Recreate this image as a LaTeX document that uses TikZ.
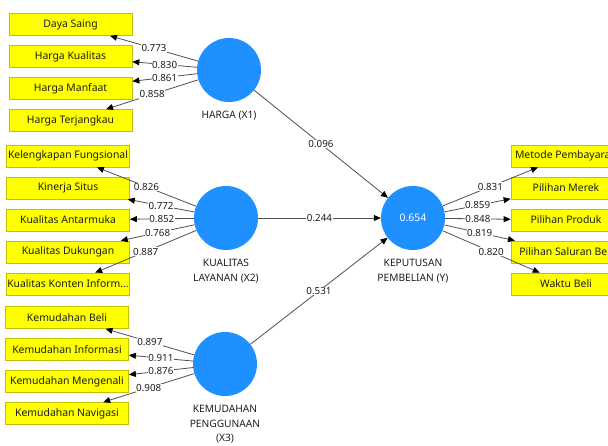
\documentclass[tikz,border=0pt]{standalone}
\usepackage{fontspec}
\setmainfont{Noto Sans}
\usepackage{tikz}
\usetikzlibrary{arrows.meta,positioning}
\definecolor{plsblue}{HTML}{1E90FF}
\definecolor{plsyellow}{HTML}{FFFF00}
\definecolor{plsrim}{HTML}{C2C200}
\definecolor{plsedge}{HTML}{505050}
\definecolor{ink}{HTML}{1E1E1E}
\tikzset{
  ind/.style={rectangle, draw=plsrim, fill=plsyellow, line width=0.7pt,
              minimum width=123pt, minimum height=22pt, inner sep=1pt,
              font=\fontsize{10.4}{12}\selectfont, text=ink},
  indr/.style={ind, minimum width=110pt},
  lv/.style={circle, fill=plsblue, minimum size=64pt, inner sep=0pt,
             text=white, font=\fontsize{10.4}{12}\selectfont},
  lvlbl/.style={align=center, inner sep=0pt, text=ink,
                font=\fontsize{10.2}{14.5}\selectfont},
  load/.style={-{Triangle[length=7pt,width=6pt,color=black]}, draw=plsedge, line width=0.8pt},
  val/.style={fill=white, inner sep=0.6pt, text=ink, font=\fontsize{9.8}{11}\selectfont}
}

\begin{document}
\begin{tikzpicture}[x=1pt, y=-1pt, node distance=9.3pt]
  \useasboundingbox (0,0) rectangle (608,445);
  \clip (0,0) rectangle (608,445);
  \fill[white] (0,0) rectangle (608,445);

  \node[lv] (harga) at (229,70) {};
  \node[lv] (kualitas) at (226,218) {};
  \node[lv] (keputusan) at (413,218) {0.654};
  \node[lv] (kemudahan) at (225,364) {};
  \node[lvlbl, below=9pt of harga] (hargalbl) {HARGA (X1)};
  \node[lvlbl, below=9pt of kualitas] (kualitaslbl) {KUALITAS\\LAYANAN (X2)};
  \node[lvlbl, below=9pt of keputusan] (keputusanlbl) {KEPUTUSAN\\PEMBELIAN (Y)};
  \node[lvlbl, below=9pt of kemudahan] (kemudahanlbl) {KEMUDAHAN\\PENGGUNAAN\\(X3)};

  \node[ind] (daya) at (70.5,24.5) {Daya Saing};
  \node[ind, below=of daya] (hkualitas) {Harga Kualitas};
  \node[ind, below=of hkualitas] (hmanfaat) {Harga Manfaat};
  \node[ind, below=of hmanfaat] (hterjangkau) {Harga Terjangkau};

  \node[ind] (fungsional) at (68,156) {Kelengkapan Fungsional};
  \node[ind, below=of fungsional] (kinerja) {Kinerja Situs};
  \node[ind, below=of kinerja] (antarmuka) {Kualitas Antarmuka};
  \node[ind, below=of antarmuka] (dukungan) {Kualitas Dukungan};
  \node[ind, below=of dukungan] (konten) {Kualitas Konten Inform...};

  \node[ind] (beli) at (67,317.5) {Kemudahan Beli};
  \node[ind, below=of beli] (informasi) {Kemudahan Informasi};
  \node[ind, below=of informasi] (mengenali) {Kemudahan Mengenali};
  \node[ind, below=of mengenali] (navigasi) {Kemudahan Navigasi};

  \node[indr] (metode) at (566,156) {Metode Pembayaran};
  \node[indr, below=of metode] (merek) {Pilihan Merek};
  \node[indr, below=of merek] (produk) {Pilihan Produk};
  \node[indr, below=of produk] (saluran) {Pilihan Saluran Beli};
  \node[indr, below=of saluran] (waktu) {Waktu Beli};

  \draw[load] (harga) -- (daya) node[val, midway] {0.773};
  \draw[load] (harga) -- (hkualitas) node[val, midway] {0.830};
  \draw[load] (harga) -- (hmanfaat) node[val, midway] {0.861};
  \draw[load] (harga) -- (hterjangkau) node[val, midway] {0.858};

  \draw[load] (kualitas) -- (fungsional) node[val, midway] {0.826};
  \draw[load] (kualitas) -- (kinerja) node[val, midway] {0.772};
  \draw[load] (kualitas) -- (antarmuka) node[val, midway] {0.852};
  \draw[load] (kualitas) -- (dukungan) node[val, midway] {0.768};
  \draw[load] (kualitas) -- (konten) node[val, midway] {0.887};

  \draw[load] (kemudahan) -- (beli) node[val, midway] {0.897};
  \draw[load] (kemudahan) -- (informasi) node[val, midway] {0.911};
  \draw[load] (kemudahan) -- (mengenali) node[val, midway] {0.876};
  \draw[load] (kemudahan) -- (navigasi) node[val, midway] {0.908};

  \draw[load] (keputusan) -- (metode) node[val, midway] {0.831};
  \draw[load] (keputusan) -- (merek) node[val, midway] {0.859};
  \draw[load] (keputusan) -- (produk) node[val, midway] {0.848};
  \draw[load] (keputusan) -- (saluran) node[val, midway] {0.819};
  \draw[load] (keputusan) -- (waktu) node[val, midway] {0.820};

  \draw[load] (harga) -- (keputusan) node[val, midway] {0.096};
  \draw[load] (kualitas) -- (keputusan) node[val, midway] {0.244};
  \draw[load] (kemudahan) -- (keputusan) node[val, midway] {0.531};
\end{tikzpicture}
\end{document}
